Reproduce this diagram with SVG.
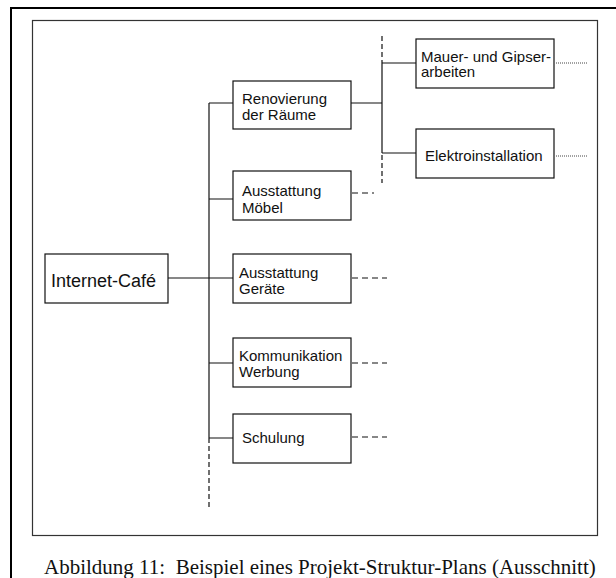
<svg xmlns="http://www.w3.org/2000/svg" width="616" height="578" viewBox="0 0 616 578">
<style>
.box{fill:#fff;stroke:#111;stroke-width:1.2}
.t{font-family:"Liberation Sans",Arial,sans-serif;font-size:15px;fill:#111}
.big{font-size:18px}
.ln{fill:none;stroke:#111;stroke-width:1.2}
.dash{fill:none;stroke:#111;stroke-width:1.2;stroke-dasharray:5,3}
.dash2{fill:none;stroke:#111;stroke-width:1.2;stroke-dasharray:6,4}
.dot{fill:none;stroke:#444;stroke-width:1;stroke-dasharray:1,1}
.cap{font-family:"Liberation Serif","Times New Roman",serif;font-size:21px;fill:#111}
</style>
<rect x="0" y="0" width="616" height="578" fill="#fff"/>
<rect x="11" y="8" width="640" height="600" fill="none" stroke="#000" stroke-width="2"/>
<rect x="32.5" y="20.5" width="565" height="515" fill="none" stroke="#333" stroke-width="1.2"/>
<g id="connectors">
<path class="ln" d="M168,278 H233"/>
<path class="ln" d="M209,103 V438"/>
<path class="dash" d="M209,438 V510"/>
<path class="ln" d="M209,103 H233 M209,199 H233 M209,363 H233 M209,438 H233"/>
<path class="ln" d="M351,103 H382 M382,63 V153 M382,63 H416 M382,153 H416"/>
<path class="dash" d="M382,36 V63 M382,155 V183"/>
<path class="dash2" d="M352,193 H374"/>
<path class="dash2" d="M352,278 H387 M352,363 H387 M352,437 H387"/>
<path class="dot" d="M556,63 H588 M556,156 H588"/>
</g>
<g id="internet-cafe">
<rect class="box" x="45" y="254" width="123" height="49"/>
<text class="t big" x="51" y="287">Internet-Café</text>
</g>
<g id="renovierung">
<rect class="box" x="233" y="81" width="118" height="48"/>
<text class="t" x="242" y="104">Renovierung</text>
<text class="t" x="242" y="119.5">der Räume</text>
</g>
<g id="moebel">
<rect class="box" x="233" y="171" width="118" height="49"/>
<text class="t" x="242" y="196">Ausstattung</text>
<text class="t" x="242" y="213">Möbel</text>
</g>
<g id="geraete">
<rect class="box" x="233" y="254" width="118" height="49"/>
<text class="t" x="239" y="278">Ausstattung</text>
<text class="t" x="239" y="294">Geräte</text>
</g>
<g id="kommunikation">
<rect class="box" x="233" y="338" width="118" height="49"/>
<text class="t" x="239" y="361">Kommunikation</text>
<text class="t" x="239" y="377">Werbung</text>
</g>
<g id="schulung">
<rect class="box" x="233" y="414" width="118" height="49"/>
<text class="t" x="242" y="443">Schulung</text>
</g>
<g id="mauer">
<rect class="box" x="416" y="39" width="138" height="49"/>
<text class="t" x="421" y="61.5">Mauer- und Gipser-</text>
<text class="t" x="421" y="77">arbeiten</text>
</g>
<g id="elektro">
<rect class="box" x="416" y="129" width="138" height="49"/>
<text class="t" x="425" y="160.5">Elektroinstallation</text>
</g>
<text class="cap" x="44" y="574" xml:space="preserve">Abbildung 11:  Beispiel eines Projekt-Struktur-Plans (Ausschnitt)</text>
</svg>
